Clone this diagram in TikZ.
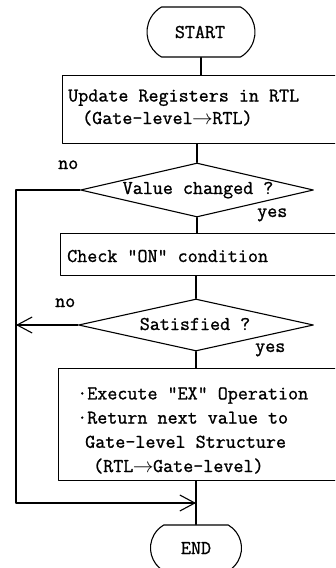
\documentclass[tikz,border=0pt]{standalone}
\usepackage{fontspec}
\newfontfamily\flowfont[FakeBold=1.1]{Latin Modern Mono}
\usetikzlibrary{shapes.geometric,shapes.misc,arrows.meta}
\newcommand\rarr{\kern-0.5pt$\mathord{\rightarrow}$\kern-0.5pt}
\begin{document}
\begin{tikzpicture}[x=1pt,y=-1pt,
  every node/.style={font=\flowfont\fontsize{19.5}{24}\selectfont},
  ln/.style={line width=1.1pt, line cap=round, line join=round},
  arr/.style={ln, -{Straight Barb[length=15pt,width=16pt,line width=1.1pt]}},
  term/.style={draw, ln, rounded rectangle, rounded rectangle arc length=120, inner sep=0pt},
  box/.style={draw, ln, rectangle, inner sep=0pt, minimum width=320pt, anchor=north west},
  dia/.style={draw, ln, diamond, inner sep=0pt},
  txt/.style={inner sep=0pt, anchor=base west},
  mtxt/.style={inner sep=0pt, anchor=base west, align=left},
  ctxt/.style={inner sep=0pt, anchor=base}]
\useasboundingbox (0,0) rectangle (335,568);
\clip (0,0) rectangle (335,568);
% terminals
\node[term, minimum width=108pt, minimum height=50pt] (start) at (201,32) {};
\node[ctxt] (startt) at (200,38) {START};
\node[term, minimum width=91pt, minimum height=46pt] (e) at (196,548) {};
\node[ctxt] (endt) at (196,554) {END};
% boxes
\node[box, minimum height=68pt] (b1) at (62,75) {};
\node[mtxt, font=\flowfont\fontsize{19.5}{22.5}\selectfont] (t1) at (68,124)
  {Update Registers in RTL\\\hspace*{14pt}(Gate-level\rarr RTL)};
\node[box, minimum height=42pt] (b2) at (60,233) {};
\node[txt] (t2) at (67,262) {Check "ON" condition};
\node[box, minimum height=112pt] (b3) at (58,368) {};
\node[mtxt, font=\flowfont\fontsize{19.5}{24.2}\selectfont] (t3) at (77,472)
  {·Execute "EX" Operation\\·Return next value to\\\hspace*{8pt}Gate-level Structure\\\hspace*{16pt}(RTL\rarr Gate-level)};
% decisions
\node[dia, minimum width=233pt, minimum height=54pt] (d1) at (197,190) {};
\node[ctxt] (d1t) at (198,194) {Value changed ?};
\node[dia, minimum width=235pt, minimum height=52pt] (d2) at (196,325) {};
\node[ctxt] (d2t) at (195,330) {Satisfied ?};
% labels
\node[txt] (no1) at (58,169) {no};
\node[txt] (yes1) at (257,217) {yes};
\node[txt] (no2) at (55,307) {no};
\node[txt] (yes2) at (255,352) {yes};
% connectors
\draw[ln] (start.south) -- (start.south |- b1.north);
\draw[ln] (d1.north |- b1.south) -- (d1.north);
\draw[ln] (d1.south) -- (d1.south |- b2.north);
\draw[ln] (d2.north |- b2.south) -- (d2.north);
\draw[ln] (d2.south) -- (d2.south |- b3.north);
\draw[ln] (e.north |- b3.south) -- (e.north);
\coordinate (lp) at (16,503);
\draw[arr] (d1.west) -- (d1.west -| lp) -- (lp) -- (lp -| e.north);
\draw[arr] (d2.west) -- (d2.west -| lp);
\end{tikzpicture}
\end{document}
